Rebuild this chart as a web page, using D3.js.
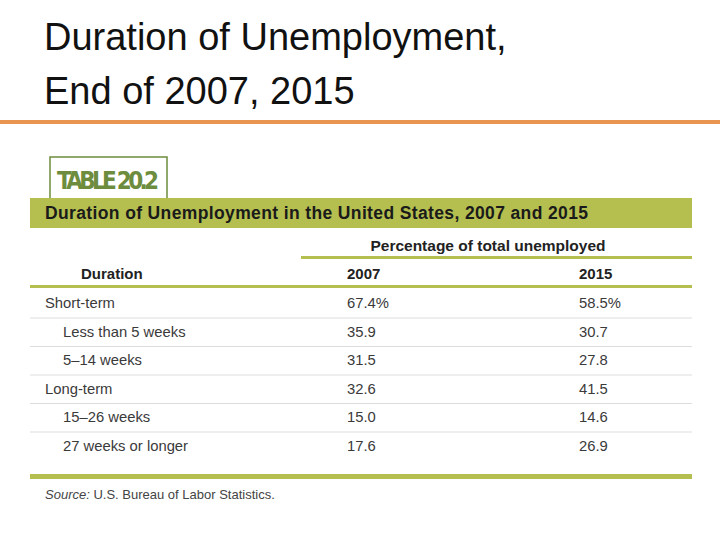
<!DOCTYPE html><html><head><meta charset="utf-8"><script src="https://cdn.jsdelivr.net/npm/d3@7"></script>
<style>body{margin:0;background:#fff}</style></head><body><svg id="c" width="720" height="540"></svg>
<script>
const categories=["Short-term","Less than 5 weeks","5–14 weeks","Long-term","15–26 weeks","27 weeks or longer"];
const indent=[false,true,true,false,true,true];
const values2007=["67.4%","35.9","31.5","32.6","15.0","17.6"];
const values2015=["58.5%","30.7","27.8","41.5","14.6","26.9"];
const years=["2007","2015"];
const svg=d3.select("#c");
const F="Liberation Sans, Arial, sans-serif";
const G="#b5bf50";
svg.append("text").attr("x",44).attr("y",50).attr("font-family",F).attr("font-size",38).attr("fill","#111").text("Duration of Unemployment,");
svg.append("text").attr("x",44).attr("y",104).attr("font-family",F).attr("font-size",38).attr("fill","#111").text("End of 2007, 2015");
svg.append("rect").attr("x",0).attr("y",120).attr("width",720).attr("height",4).attr("fill","#e8954f");
svg.append("rect").attr("x",50).attr("y",157).attr("width",117).attr("height",44).attr("fill","#fff").attr("stroke","#6d8c3e").attr("stroke-width",1.5);
svg.append("text").attr("x",57).attr("y",189).attr("font-family","Liberation Sans Narrow, DejaVu Sans Condensed, sans-serif").attr("font-weight","bold").attr("font-size",24).attr("fill","#6d8c3e").attr("textLength",102).text("TABLE 20.2");
svg.append("rect").attr("x",30).attr("y",198).attr("width",662).attr("height",30).attr("fill",G);
svg.append("text").attr("x",45).attr("y",219).attr("font-family",F).attr("font-weight","bold").attr("font-size",17.5).attr("fill","#1a1a1a").attr("textLength",543).text("Duration of Unemployment in the United States, 2007 and 2015");
svg.append("text").attr("x",488).attr("y",251).attr("text-anchor","middle").attr("font-family",F).attr("font-weight","bold").attr("font-size",15.5).attr("fill","#222").text("Percentage of total unemployed");
svg.append("rect").attr("x",301).attr("y",256).attr("width",391).attr("height",3).attr("fill",G);
const x=d3.scaleOrdinal().domain(["Duration",...years]).range([81,347,579]);
svg.append("text").attr("x",x("Duration")).attr("y",279).attr("font-family",F).attr("font-weight","bold").attr("font-size",15).attr("fill","#222").text("Duration");
years.forEach(yv=>svg.append("text").attr("x",x(yv)).attr("y",279).attr("font-family",F).attr("font-weight","bold").attr("font-size",15).attr("fill","#222").text(yv));
svg.append("rect").attr("x",30).attr("y",285).attr("width",662).attr("height",3).attr("fill",G);
const y=d3.scaleBand().domain(categories).range([289,460]);
categories.forEach((c,i)=>{
 const yc=y(c)+y.bandwidth()/2;
 const t=(xx,s)=>svg.append("text").attr("x",xx).attr("y",yc+5).attr("font-family",F).attr("font-size",14.8).attr("fill","#3a3a3a").text(s);
 t(indent[i]?63:45,c); t(x("2007"),values2007[i]); t(x("2015"),values2015[i]);
 if(i<categories.length-1) svg.append("rect").attr("x",30).attr("y",y(c)+y.bandwidth()).attr("width",662).attr("height",1).attr("fill","#ddd");
});
svg.append("rect").attr("x",30).attr("y",474).attr("width",662).attr("height",5).attr("fill",G);
const s=svg.append("text").attr("x",45).attr("y",499).attr("font-family",F).attr("font-size",13).attr("fill","#444");
s.append("tspan").attr("font-style","italic").text("Source: ");
s.append("tspan").text("U.S. Bureau of Labor Statistics.");
</script></body></html>
